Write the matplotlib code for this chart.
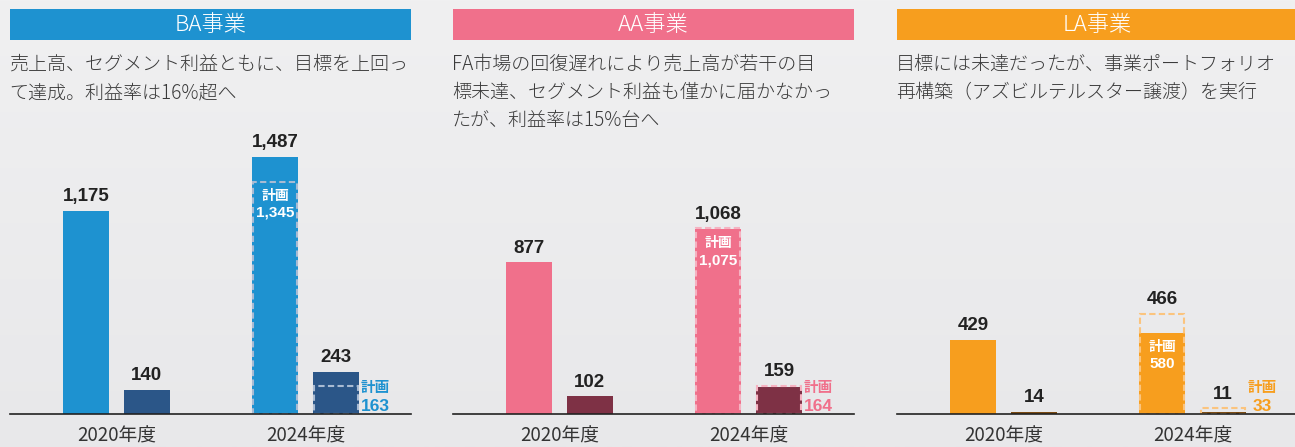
import numpy as np
import matplotlib
matplotlib.use("Agg")
import matplotlib.pyplot as plt
from matplotlib.patches import Rectangle

plt.rcParams['font.family'] = ['Noto Sans CJK JP', 'DejaVu Sans']

# データ
segments = ['BA事業', 'AA事業', 'LA事業']
years = ['2020年度', '2024年度']
descriptions = [
    ['売上高、セグメント利益ともに、目標を上回っ', 'て達成。利益率は16%超へ'],
    ['FA市場の回復遅れにより売上高が若干の目', '標未達、セグメント利益も僅かに届かなかっ', 'たが、利益率は15%台へ'],
    ['目標には未達だったが、事業ポートフォリオ', '再構築（アズビルテルスター譲渡）を実行'],
]
sales = [[1175, 1487], [877, 1068], [429, 466]]
profit = [[140, 243], [102, 159], [14, 11]]
plan_sales = [1345, 1075, 580]
plan_profit = [163, 164, 33]

main_colors = ['#1e92d0', '#f0708b', '#f79e1e']
dark_colors = ['#2b5688', '#7e3145', '#7a4a12']
dash_colors = ['#a9bbd3', '#f6b2c1', '#fbc47e']

W, H = 1295, 447
bg = '#ececed'
fig = plt.figure(figsize=(W / 100, H / 100), dpi=100, facecolor=bg)

# 背景のうすいグラデーション
bg_ax = fig.add_axes([0, 0, 1, 1], zorder=-10)
grad = np.linspace(0, 1, 256).reshape(-1, 1)
bg_ax.imshow(grad, aspect='auto', extent=(0, 1, 0, 1),
             cmap=matplotlib.colors.LinearSegmentedColormap.from_list('g', ['#f0f0f1', '#e8e8ea']))
bg_ax.axis('off')


def fx(px):
    return px / W


def fy(py):
    return 1 - py / H


panel_left = [10, 453, 897]
panel_w = 401
base_y = 414
top_y = 130
ymax = (base_y - top_y) / 0.1728
bw = 0.243
off = 0.161
x = np.arange(len(years))
dash = (0, (3, 1.6))
num_font = 'Liberation Sans'

for i in range(3):
    L = panel_left[i]
    # 見出し
    fig.add_artist(Rectangle((fx(L), fy(40)), panel_w / W, 31 / H,
                             transform=fig.transFigure, color=main_colors[i], lw=0))
    fig.text(fx(L + panel_w / 2), fy(25), segments[i], color='white',
             fontsize=16, ha='center', va='center', weight='light')
    for j, line in enumerate(descriptions[i]):
        fig.text(fx(L - 1), fy(54 + 28 * j), line, color='#3a3a3a',
                 fontsize=13.7, ha='left', va='top', weight='light')

    ax = fig.add_axes([fx(L), fy(base_y), panel_w / W, (base_y - top_y) / H])
    ax.set_facecolor('none')
    ax.set_xlim(-0.563, 1.558)
    ax.set_ylim(0, ymax)
    for s in ['top', 'right', 'left']:
        ax.spines[s].set_visible(False)
    ax.spines['bottom'].set_color('#222222')
    ax.spines['bottom'].set_linewidth(1.2)
    ax.set_yticks([])
    ax.set_xticks(x)
    ax.set_xticklabels(years, fontsize=13.5, color='#333333')
    ax.tick_params(axis='x', length=0, pad=8)

    ax.bar(x - off, sales[i], width=bw, color=main_colors[i], lw=0)
    ax.bar(x + off, profit[i], width=bw, color=dark_colors[i], lw=0)

    # 計画（点線）
    ax.bar(x[1] - off, plan_sales[i], width=bw * 0.955, fill=False,
           edgecolor=dash_colors[i], lw=1.5, linestyle=dash)
    ax.bar(x[1] + off, plan_profit[i], width=bw * 0.955, fill=False,
           edgecolor=dash_colors[i], lw=1.5, linestyle=dash)

    # 実績ラベル
    for k in range(2):
        top_s = sales[i][k] if k == 0 else max(sales[i][k], plan_sales[i])
        top_p = profit[i][k] if k == 0 else max(profit[i][k], plan_profit[i])
        ax.annotate(f'{sales[i][k]:,}', (x[k] - off, top_s), xytext=(0, 4),
                    textcoords='offset points', ha='center', va='bottom',
                    fontsize=13.5, weight='bold', family=num_font, color='#222222')
        ax.annotate(f'{profit[i][k]:,}', (x[k] + off, top_p), xytext=(0, 4),
                    textcoords='offset points', ha='center', va='bottom',
                    fontsize=13.5, weight='bold', family=num_font, color='#222222')

    # 売上高の計画ラベル（棒の中）
    inner = min(sales[i][1], plan_sales[i])
    ax.annotate('計画', (x[1] - off, inner), xytext=(0, -5),
                textcoords='offset points', ha='center', va='top',
                fontsize=10, weight='bold', color='white')
    ax.annotate(f'{plan_sales[i]:,}', (x[1] - off, inner), xytext=(0, -17),
                textcoords='offset points', ha='center', va='top',
                fontsize=11, weight='bold', family=num_font, color='white')

    # 利益の計画ラベル（棒の横）
    side_x = x[1] + off + bw / 2 + 0.088
    ax.annotate('計画', (side_x, 0), xytext=(0, 15.5),
                textcoords='offset points', ha='center', va='baseline',
                fontsize=10.5, weight='bold', color=main_colors[i], annotation_clip=False)
    ax.annotate(f'{plan_profit[i]:,}', (side_x, 0), xytext=(0, 2.5),
                textcoords='offset points', ha='center', va='baseline',
                fontsize=12.5, weight='bold', family=num_font, color=main_colors[i],
                annotation_clip=False)

fig.savefig('out.png', dpi=100, facecolor=bg)
